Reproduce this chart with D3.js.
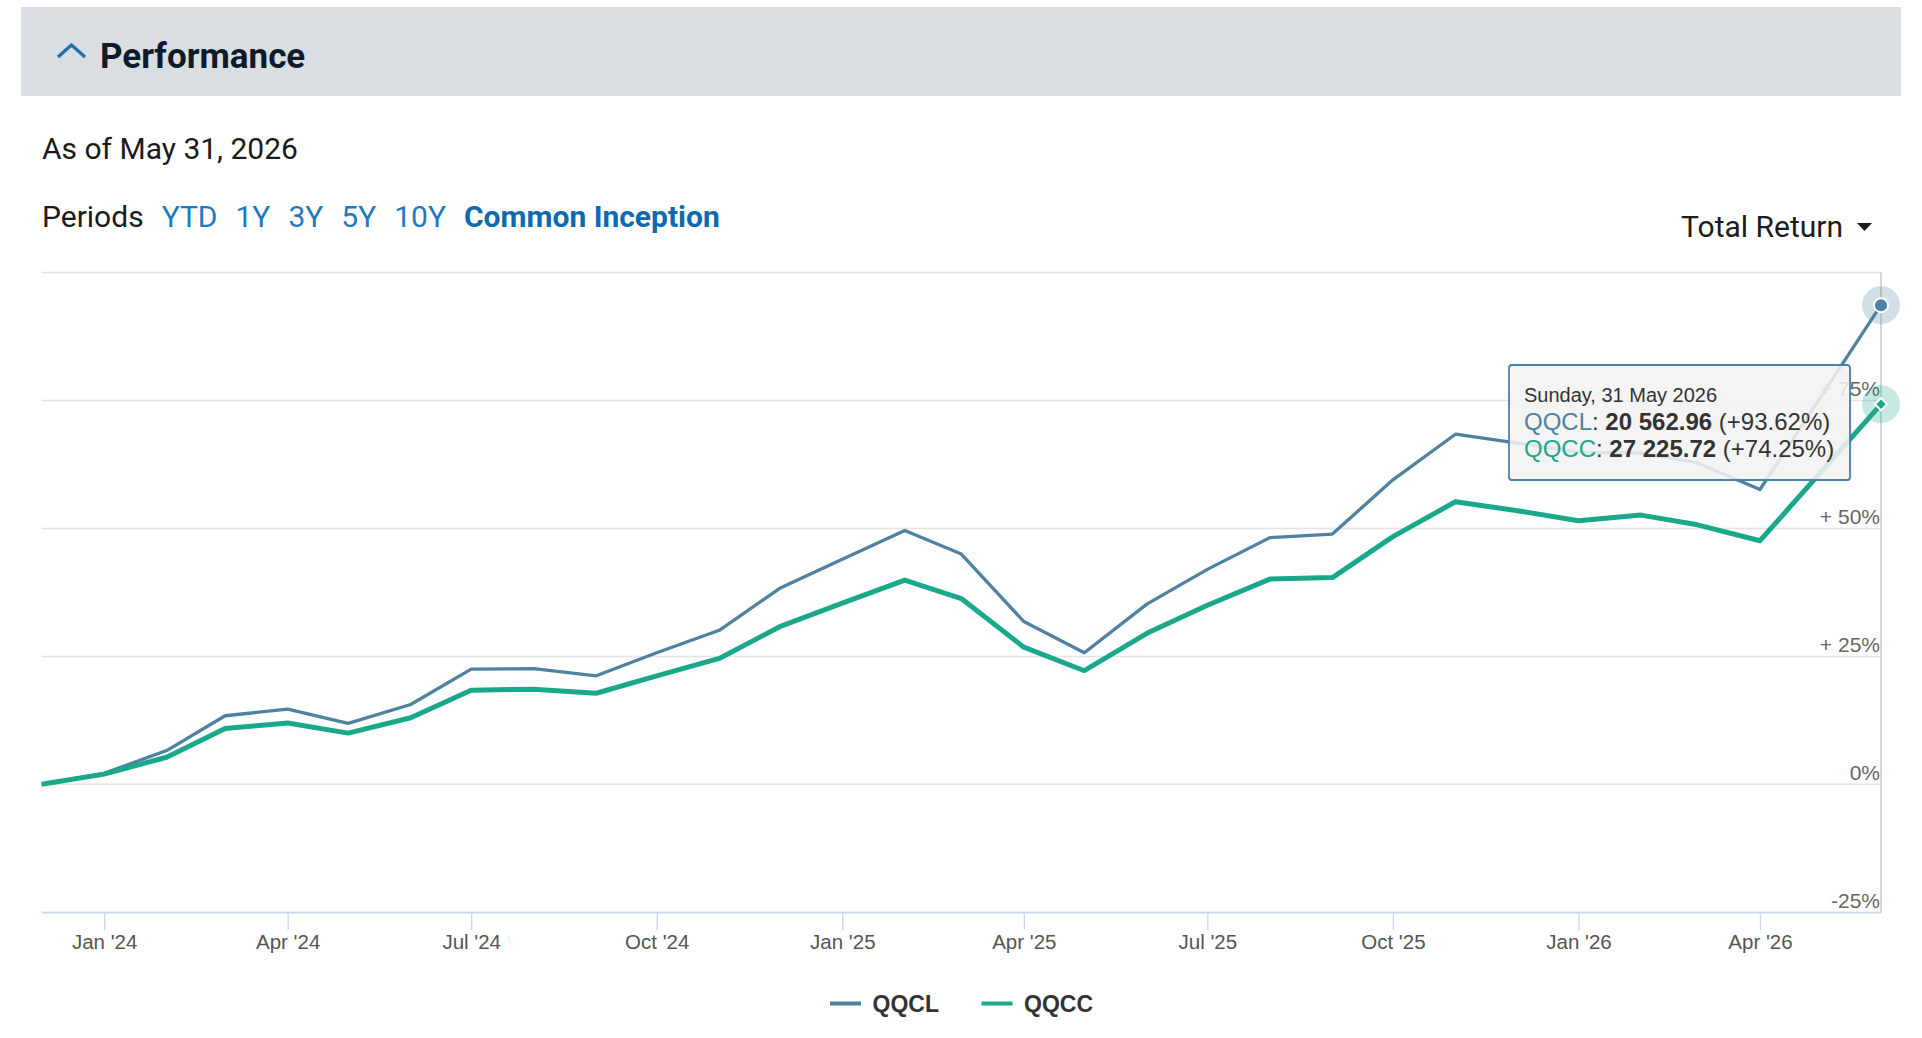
<!DOCTYPE html>
<html>
<head>
<meta charset="utf-8">
<script src="https://cdn.jsdelivr.net/npm/d3@7"></script>
<style>
  body { margin: 0; background: #fff; overflow: hidden; }
  svg { display: block; }
  .ui { font-family: Roboto, "Noto Sans", sans-serif; }
  .chart text { font-family: "Liberation Sans", Arial, sans-serif; }
</style>
</head>
<body>
<div id="chart"></div>
<script>
// data (percent total return since common inception)
const dates = ["2023-12-01", "2024-01-01", "2024-02-01", "2024-03-01", "2024-04-01", "2024-05-01",
  "2024-06-01", "2024-07-01", "2024-08-01", "2024-09-01", "2024-10-01", "2024-11-01",
  "2024-12-01", "2025-01-01", "2025-02-01", "2025-03-01", "2025-04-01", "2025-05-01",
  "2025-06-01", "2025-07-01", "2025-08-01", "2025-09-01", "2025-10-01", "2025-11-01",
  "2025-12-01", "2026-01-01", "2026-02-01", "2026-03-01", "2026-04-01", "2026-05-31"]
const qqcl = [0, 2.15, 6.6, 13.4, 14.7, 11.9, 15.6, 22.5, 22.6, 21.2, 25.7, 30.1, 38.3, 44.0, 49.6,
  45.0, 31.8, 25.7, 35.2, 42.0, 48.2, 48.9, 59.5, 68.4, 66.7, 64.9, 64.7, 62.8, 57.6, 93.62]
const qqcc = [0, 2.0, 5.3, 10.9, 12.0, 10.0, 13.0, 18.4, 18.6, 17.8, 21.2, 24.6, 30.8, 35.4, 39.9,
  36.3, 26.8, 22.2, 29.5, 35.0, 40.1, 40.4, 48.4, 55.2, 53.5, 51.5, 52.6, 50.7, 47.6, 74.25]
const seriesNames = ["QQCL", "QQCC"]
const seriesColors = ["#4f81a1", "#19a98a"]
const lastValues = ["20 562.96", "27 225.72"]
const yTicks = [-25, 0, 25, 50, 75, 100]
const periods = ["YTD", "1Y", "3Y", "5Y", "10Y", "Common Inception"]
const tooltipDate = "Sunday, 31 May 2026"

const width = 1922, height = 1038
const parse = d3.timeParse("%Y-%m-%d")

const svg = d3.select("#chart").append("svg")
    .attr("width", width)
    .attr("height", height)

// Header band
svg.append("rect")
    .attr("x", 21).attr("y", 7)
    .attr("width", 1880).attr("height", 89)
    .attr("fill", "#dadee3")

svg.append("path")
    .attr("d", "M58,57 L71.5,45 L85,57")
    .attr("fill", "none")
    .attr("stroke", "#1f70b0")
    .attr("stroke-width", 3.2)

svg.append("text").attr("class", "ui")
    .attr("x", 100).attr("y", 68)
    .attr("font-size", 35).attr("font-weight", 700)
    .attr("fill", "#0f1b2b")
    .text("Performance")

svg.append("text").attr("class", "ui")
    .attr("x", 42).attr("y", 159)
    .attr("font-size", 30).attr("fill", "#1b1b1b")
    .text("As of May 31, 2026")

// Periods row
var px = 42
var lbl = svg.append("text").attr("class", "ui")
    .attr("x", px).attr("y", 227)
    .attr("font-size", 30).attr("fill", "#1b1b1b")
    .text("Periods")
px += lbl.node().getComputedTextLength() + 18

periods.forEach((p, i) => {
  let last = i === periods.length - 1
  let t = svg.append("text").attr("class", "ui")
      .attr("x", px).attr("y", 227)
      .attr("font-size", 30)
      .attr("font-weight", last ? 700 : 400)
      .attr("fill", last ? "#0c6aae" : "#1f78c0")
      .text(p)
  px += t.node().getComputedTextLength() + 18
})

svg.append("text").attr("class", "ui")
    .attr("x", 1843).attr("y", 237)
    .attr("text-anchor", "end")
    .attr("font-size", 30).attr("fill", "#1b1b1b")
    .text("Total Return")

svg.append("path")
    .attr("d", "M1857,223 L1872,223 L1864.5,231 Z")
    .attr("fill", "#1b1b1b")

// Chart
const plot = { left: 41.6, right: 1881, top: 272.5, bottom: 912.3 }

const x = d3.scaleTime()
    .domain([parse(dates[0]), parse(dates[dates.length - 1])])
    .range([plot.left, plot.right])

const y = d3.scaleLinear()
    .domain([-25, 100])
    .range([plot.bottom, plot.top])

const chart = svg.append("g").attr("class", "chart")

// grid
chart.append("g").selectAll("line").data(yTicks).enter()
  .append("line")
    .attr("x1", plot.left).attr("x2", plot.right)
    .attr("y1", d => y(d)).attr("y2", d => y(d))
    .attr("stroke", "#e4e4e4")
    .attr("stroke-width", 1.5)

// right border
chart.append("line")
    .attr("x1", plot.right).attr("x2", plot.right)
    .attr("y1", plot.top).attr("y2", plot.bottom)
    .attr("stroke", "#c8c8c8")
    .attr("stroke-width", 1.5)

// x axis
const xAxis = d3.axisBottom(x)
    .tickValues(x.ticks(d3.timeMonth.every(3)))
    .tickFormat(d3.timeFormat("%b '%y"))
    .tickSize(18)
    .tickSizeOuter(0)
    .tickPadding(4)

const gx = chart.append("g")
    .attr("transform", `translate(0,${plot.bottom})`)
    .call(xAxis)
gx.select(".domain").attr("stroke", "#ccd6eb").attr("stroke-width", 1.5)
gx.selectAll(".tick line").attr("stroke", "#ccd6eb").attr("stroke-width", 1.3)
gx.selectAll(".tick text")
    .attr("font-size", 20.5)
    .attr("fill", "#555")
    .attr("font-family", "Liberation Sans, Arial, sans-serif")

// y labels, inside the plot on the right
chart.append("g").selectAll("text").data(yTicks.filter(d => d < 100)).enter()
  .append("text")
    .attr("x", plot.right - 1)
    .attr("y", d => y(d) - 4.5)
    .attr("text-anchor", "end")
    .attr("font-size", 21)
    .attr("fill", "#666")
    .text(d => d > 0 ? "+ " + d + "%" : d + "%")

// lines
const series = [qqcl, qqcc]
const line = d3.line()
    .x((d, i) => x(parse(dates[i])))
    .y(d => y(d))

chart.append("g").selectAll("path").data(series).enter()
  .append("path")
    .attr("d", d => line(d))
    .attr("fill", "none")
    .attr("stroke", (d, i) => seriesColors[i])
    .attr("stroke-width", (d, i) => i === 0 ? 3.3 : 5)
    .attr("stroke-linejoin", "round")

// tooltip
const tip = chart.append("g")
tip.append("rect")
    .attr("x", 1510.5).attr("y", 366)
    .attr("width", 341).attr("height", 115)
    .attr("rx", 3)
    .attr("fill", "rgba(0,0,0,0.12)")
tip.append("rect")
    .attr("x", 1509).attr("y", 365)
    .attr("width", 341).attr("height", 115)
    .attr("rx", 3)
    .attr("fill", "rgba(247,247,247,0.86)")
    .attr("stroke", seriesColors[0])
    .attr("stroke-width", 1.8)

tip.append("text")
    .attr("x", 1524).attr("y", 401.5)
    .attr("font-size", 20)
    .attr("fill", "#333")
    .text(tooltipDate)

const last = dates.length - 1
series.forEach((s, i) => {
  let t = tip.append("text")
      .attr("x", 1524).attr("y", 429.5 + i * 27.5)
      .attr("font-size", 24)
      .attr("fill", "#333")
  t.append("tspan").attr("fill", seriesColors[i]).text(seriesNames[i])
  t.append("tspan").text(": ")
  t.append("tspan").attr("font-weight", 700).text(lastValues[i])
  t.append("tspan").text(" (+" + s[last].toFixed(2) + "%)")
})

// hover markers at the last point
const lx = x(parse(dates[last]))
series.forEach((s, i) => {
  chart.append("circle")
      .attr("cx", lx).attr("cy", y(s[last]))
      .attr("r", 19)
      .attr("fill", seriesColors[i])
      .attr("fill-opacity", 0.25)
})
chart.append("circle")
    .attr("cx", lx).attr("cy", y(qqcl[last]))
    .attr("r", 7)
    .attr("fill", seriesColors[0])
    .attr("stroke", "#fff")
    .attr("stroke-width", 2)
chart.append("path")
    .attr("d", d3.symbol(d3.symbolSquare, 75)())
    .attr("transform", `translate(${lx},${y(qqcc[last])}) rotate(45)`)
    .attr("fill", seriesColors[1])
    .attr("stroke", "#fff")
    .attr("stroke-width", 2)

// legend
const legendX = [830, 981.5]
seriesNames.forEach((n, i) => {
  chart.append("line")
      .attr("x1", legendX[i]).attr("x2", legendX[i] + 31)
      .attr("y1", 1003.5).attr("y2", 1003.5)
      .attr("stroke", seriesColors[i])
      .attr("stroke-width", 4)
  chart.append("text")
      .attr("x", legendX[i] + 42.5).attr("y", 1012)
      .attr("font-size", 23).attr("font-weight", 700)
      .attr("fill", "#333")
      .text(n)
})
</script>
</body>
</html>
